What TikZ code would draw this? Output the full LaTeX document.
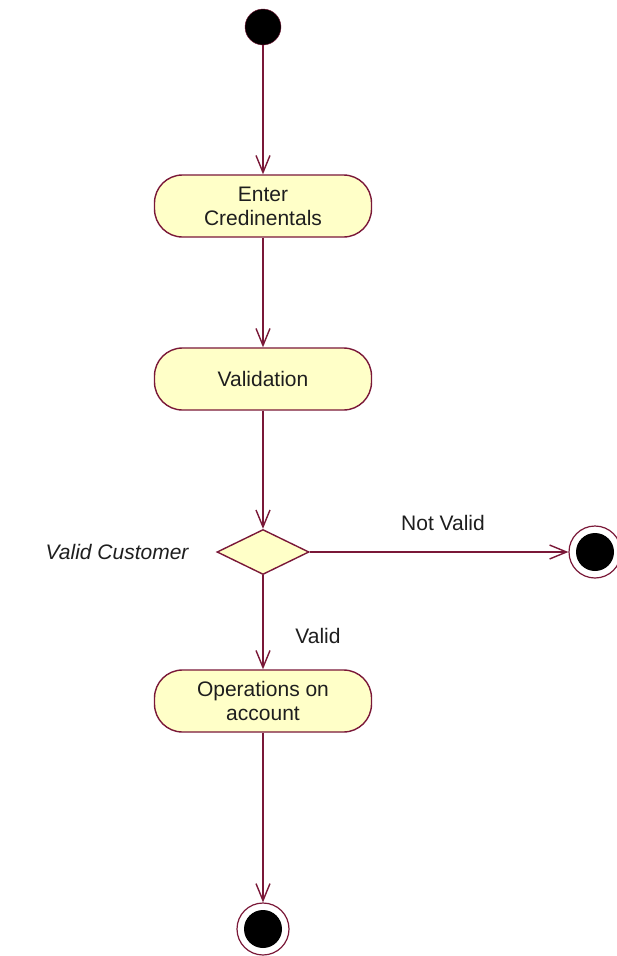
\documentclass[tikz,border=0pt]{standalone}
\usepackage{fontspec}
\setmainfont{Liberation Sans}
\usetikzlibrary{shapes.geometric}
\usetikzlibrary{arrows.meta}
\usetikzlibrary{positioning}
\definecolor{edge}{HTML}{7a1838}
\definecolor{pale}{HTML}{ffffc8}
\definecolor{ink}{HTML}{1e1e1e}
\tikzset{
    activity/.style={
        draw=edge,
        fill=pale,
        line width=1.4pt,
        rounded corners=28pt,
        minimum width=217pt,
        minimum height=62pt,
        align=center,
        text=ink,
        font=\fontsize{21}{24}\selectfont
    },
    decision/.style={
        diamond,
        draw=edge,
        fill=pale,
        line width=1.4pt,
        minimum width=92pt,
        minimum height=45pt,
        inner sep=0pt
    },
    flow/.style={
        draw=edge,
        line width=1.4pt,
        -{Straight Barb[length=17pt,width=14pt]}
    },
    guard/.style={text=ink, font=\fontsize{21}{24}\selectfont}
}

\begin{document}
\begin{tikzpicture}[x=1pt,y=-1pt]
    \useasboundingbox (0,0) rectangle (616,956);
    \fill[white] (0,0) rectangle (616,956);

    % initial state
    \node[circle, fill=black, draw=edge, minimum size=36pt, inner sep=0pt] (start) at (263,27) {};

    % actions
    \node[activity] (enter) at (263,206) {Enter\\Credinentals};
    \node[activity] (check) at (263,379) {Validation};
    \node[decision] (valid) at (263,552) {};
    \node[activity] (ops) at (263,701) {Operations on\\account};

    % final states
    \node[circle, draw=edge, line width=1.2pt, fill=white, minimum size=52pt, inner sep=0pt] (stopA) at (595,552) {};
    \node[circle, fill=black, minimum size=38pt, inner sep=0pt] at (stopA) {};
    \node[circle, draw=edge, line width=1.2pt, fill=white, minimum size=52pt, inner sep=0pt] (stopB) at (263,929) {};
    \node[circle, fill=black, minimum size=38pt, inner sep=0pt] at (stopB) {};

    % guard labels
    \node[guard, anchor=east, font=\fontsize{21}{24}\itshape] (cond) at (192,552) {Valid Customer};
    \node[guard] (no) at (443,523) {Not Valid};
    \node[guard] (yes) at (318,636) {Valid};

    % transitions
    \draw[flow] (start) -- (enter);
    \draw[flow] (enter) -- (check);
    \draw[flow] (check) -- (valid.north);
    \draw[flow] (valid.east) -- (stopA);
    \draw[flow] (valid.south) -- (ops);
    \draw[flow] (ops) -- (stopB);
\end{tikzpicture}
\end{document}
